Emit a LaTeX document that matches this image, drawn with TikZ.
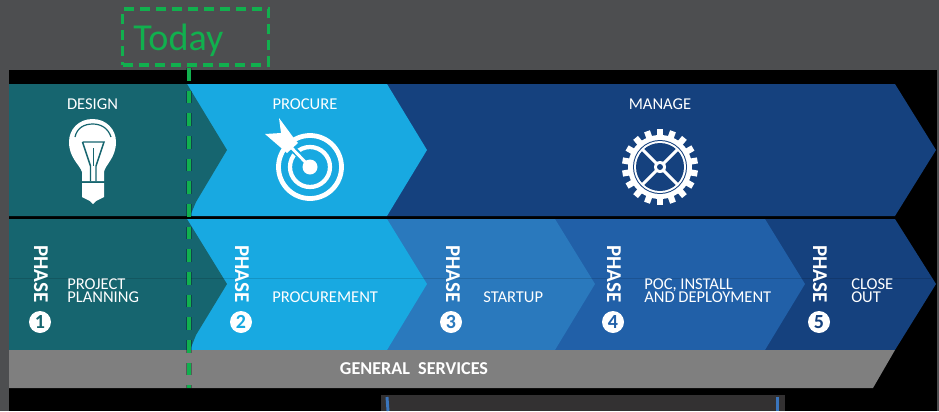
\documentclass[tikz,border=0pt]{standalone}
\usepackage{fontspec}
\setmainfont{Carlito}
\definecolor{bgGray}{HTML}{4D4E50}
\definecolor{tealC}{HTML}{16656F}
\definecolor{skyC}{HTML}{18A9E1}
\definecolor{navyC}{HTML}{15417E}
\definecolor{midC}{HTML}{2A79BD}
\definecolor{royalC}{HTML}{2160A8}
\definecolor{bandC}{HTML}{7F7F7F}
\definecolor{greenC}{HTML}{11B04E}
\definecolor{panelC}{HTML}{333132}
\definecolor{edgeC}{HTML}{3A75BD}
\tikzset{
  toplabel/.style={text=white,font=\fontsize{12.4}{12.4}\selectfont,inner sep=0pt},
  steplabel/.style={text=white,font=\fontsize{12.4}{9.8}\selectfont,inner sep=0pt,anchor=west,align=left},
  phaseword/.style={text=white,font=\bfseries\fontsize{15.8}{15.8}\selectfont,rotate=-90,inner sep=0pt},
  phasenum/.style={circle,fill=white,minimum size=16.5pt,inner sep=0pt,font=\bfseries\fontsize{15}{15}\selectfont},
  todaybox/.style={draw=greenC,line width=2.4pt,dash pattern=on 7.5pt off 4.5pt,minimum width=109pt,minimum height=42pt,inner sep=0pt},
  nowline/.style={draw=greenC,line width=2.6pt,dash pattern=on 9.4pt off 7.6pt},
  nowshade/.style={draw=black,opacity=.3,line width=4.6pt,dash pattern=on 9.4pt off 7.6pt},
  iconcut/.style={line width=.9pt}
}
\begin{document}
\begin{tikzpicture}[x=.75pt,y=-.75pt]
\useasboundingbox (0,0) rectangle (939,411);
\fill[bgGray] (0,0) rectangle (939,411);
\fill[black] (9,70) rectangle (937,411);
\fill[panelC] (381,395) rectangle (785,411);
\draw[edgeC,line width=2.2pt] (387,397) -- (388,411);
\draw[edgeC,line width=2.2pt] (777.5,397) -- (777.5,411);
% top row
\fill[navyC] (387,84) -- (895,84) -- (936,150) -- (895,216) -- (387,216) -- cycle;
\fill[skyC] (187,84) -- (387,84) -- (427,150) -- (387,216) -- (187,216) -- cycle;
\fill[tealC] (9,84) -- (187,84) -- (227,150) -- (196,202) -- (190,216) -- (9,216) -- cycle;
% bottom row
\fill[navyC] (765,219) -- (895,219) -- (936,284) -- (895,350) -- (765,350) -- cycle;
\fill[royalC] (555,219) -- (765,219) -- (805,284) -- (765,350) -- (555,350) -- cycle;
\fill[midC] (387,219) -- (555,219) -- (595,284) -- (555,350) -- (387,350) -- cycle;
\fill[skyC] (187,219) -- (387,219) -- (427,284) -- (387,350) -- (187,350) -- cycle;
\fill[tealC] (9,219) -- (187,219) -- (227,284) -- (196,335) -- (190,350) -- (9,350) -- cycle;
\draw[black,opacity=.13,line width=.5pt] (9,278) -- (931,278);
% band
\fill[bandC] (9,350) -- (895,350) -- (873,388) -- (9,388) -- cycle;
\node[text=white,font=\bfseries\fontsize{13.6}{13.6}\selectfont,inner sep=0pt] (general) at (414,369) {GENERAL\ \ SERVICES};
% top labels
\node[toplabel] (design) at (92.5,104) {DESIGN};
\node[toplabel] (procure) at (305,104) {PROCURE};
\node[toplabel] (manage) at (660,104) {MANAGE};
% bulb
\fill[white] (82,181) -- (82,172) .. controls (80,165) and (69,158) .. (69,142) .. controls (69,129) and (79,119) .. (92.5,119) .. controls (106,119) and (116,129) .. (116,142) .. controls (116,158) and (105,165) .. (104,172) -- (104,181) -- cycle;
\fill[white] (82,183) -- (104,183) -- (104,197) -- (96,201) -- (93,204) -- (90,201) -- (82,197) -- cycle;
\draw[tealC,iconcut] (75,137) .. controls (77,128) and (84,124) .. (92.7,124) .. controls (101,124) and (108,128) .. (111,137);
\draw[tealC,line width=1.1pt,line join=miter] (82.5,142) -- (104,142) -- (96,166) -- (96,181) (82.5,142) -- (90.5,166) -- (90.5,181);
\draw[tealC,iconcut] (93.2,148) -- (93.2,166);
% target
\draw[white,line width=3.6pt] (310,167) circle (31.5);
\draw[white,line width=3.2pt] (310,167) circle (20);
\fill[white] (310,167) circle (7.5);
\draw[skyC,line width=5pt] (286,142) -- (305,161);
\draw[white,line width=2.2pt] (286,142) -- (310,167);
\fill[white] (279,118) -- (293,137) -- (298,143) -- (287,153) -- (265,134) -- (281,133) -- cycle;
% gear
\begin{scope}[shift={(660,167)}]
\foreach \a in {10,30,...,350}{
  \draw[white,line width=4.6pt] (\a:28) -- (\a:38);
}
\fill[white] (0,0) circle (32);
\fill[navyC] (0,0) circle (27);
\fill[white] (0,0) circle (26);
\fill[navyC] (0,0) circle (24);
\foreach \a in {45,135,225,315}{
  \draw[white,line width=2.2pt] (0,0) -- (\a:25);
}
\fill[white] (0,0) circle (6);
\fill[navyC] (0,0) circle (3);
\end{scope}
% phases
\node[phaseword] (ph1) at (41,274) {PHASE};
\node[phaseword] (ph2) at (242,274) {PHASE};
\node[phaseword] (ph3) at (453,274) {PHASE};
\node[phaseword] (ph4) at (614,274) {PHASE};
\node[phaseword] (ph5) at (820,274) {PHASE};
\node[phasenum,text=tealC] (n1) at (40,322) {1};
\node[phasenum,text=skyC] (n2) at (241,322) {2};
\node[phasenum,text=midC] (n3) at (451,322) {3};
\node[phasenum,text=royalC] (n4) at (613,322) {4};
\node[phasenum,text=navyC] (n5) at (819,322) {5};
\node[steplabel] (s1) at (67,291) {PROJECT\\PLANNING};
\node[steplabel] (s2) at (272,297.5) {PROCUREMENT};
\node[steplabel] (s3) at (483,297.5) {STARTUP};
\node[steplabel] (s4) at (644,291) {POC, INSTALL\\AND DEPLOYMENT};
\node[steplabel] (s5) at (851,291) {CLOSE\\OUT};
% today
\node[todaybox] (today) at (195.5,37) {};
\node[text=greenC,font=\fontsize{28.6}{28.6}\selectfont,inner sep=0pt,anchor=west] (todaytxt) at (133,40) {Today};
\coordinate (nowtop) at (189,68);
\coordinate (nowend) at (189,388);
\draw[nowshade] (nowtop) -- (nowend);
\draw[nowline] (nowtop) -- (nowend);
\end{tikzpicture}
\end{document}
